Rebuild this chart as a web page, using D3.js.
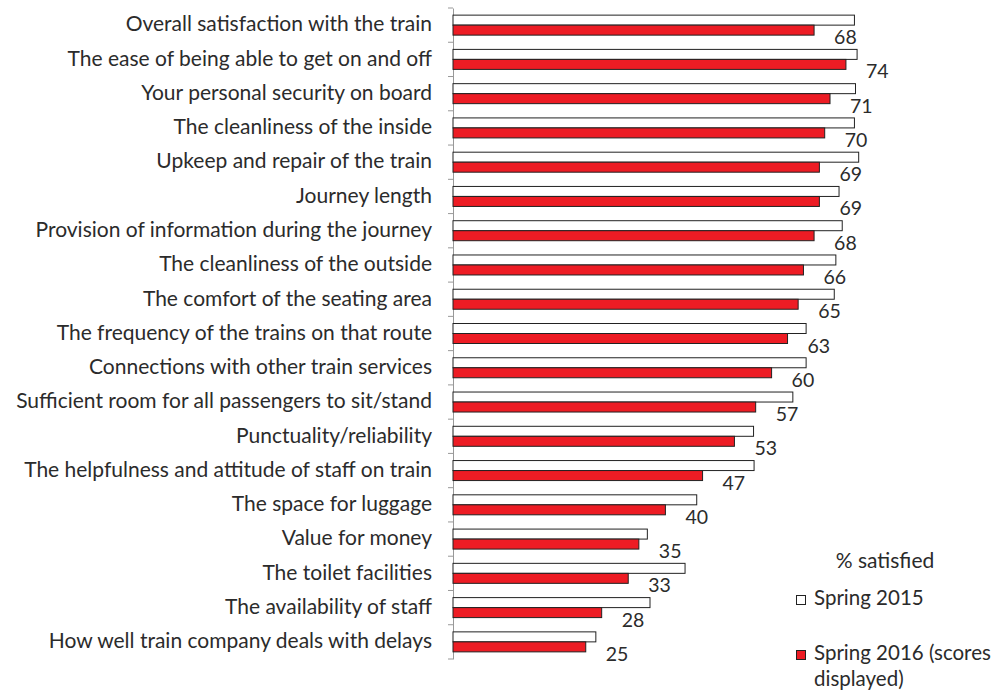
<html>
<head>
<script src="https://d3js.org/d3.v7.min.js"></script>
<style>
  body { margin: 0; background: #fff; }
  text { font-family: Lato, "Open Sans", sans-serif; fill: #2b2b2b; }
</style>
</head>
<body>
<script>
var categories = [
  "Overall satisfaction with the train",
  "The ease of being able to get on and off",
  "Your personal security on board",
  "The cleanliness of the inside",
  "Upkeep and repair of the train",
  "Journey length",
  "Provision of information during the journey",
  "The cleanliness of the outside",
  "The comfort of the seating area",
  "The frequency of the trains on that route",
  "Connections with other train services",
  "Sufficient room for all passengers to sit/stand",
  "Punctuality/reliability",
  "The helpfulness and attitude of staff on train",
  "The space for luggage",
  "Value for money",
  "The toilet facilities",
  "The availability of staff",
  "How well train company deals with delays"
];
// Spring 2015
var spring2015 = [75.6, 76.1, 75.8, 75.6, 76.4, 72.7, 73.3, 72.1, 71.8, 66.5, 66.5, 64.0, 56.6, 56.7, 45.9, 36.6, 43.7, 37.1, 26.9];
// Spring 2016 (scores displayed)
var spring2016 = [68, 74, 71, 70, 69, 69, 68, 66, 65, 63, 60, 57, 53, 47, 40, 35, 33, 28, 25];

var legendTitle = "% satisfied";
var seriesNames = ["Spring 2015", "Spring 2016 (scores", "displayed)"];

var width = 999, height = 690;
var svg = d3.select("body").append("svg").attr("width", width).attr("height", height);

var x = d3.scaleLinear().domain([0, 100]).range([453, 984]);
var y = d3.scaleBand().domain(categories).range([8, 659]).paddingInner(0).paddingOuter(0);
var barH = 10;

// axis
var yAxis = d3.axisLeft(y).tickSize(0).tickPadding(21);
var gAxis = svg.append("g").attr("transform", "translate(453,0)").call(yAxis);
gAxis.select(".domain").attr("stroke", "#999");
gAxis.selectAll("text").style("font-size", "21px").attr("fill", "#2b2b2b").style("font-family", "Lato, sans-serif").attr("dy", "0.3em");

// tick marks at band boundaries
var bounds = categories.map(function(c) { return y(c); }).concat([y.range()[1]]);
svg.selectAll("line.tick").data(bounds).enter().append("line")
  .attr("x1", 448).attr("x2", 453)
  .attr("y1", function(d) { return d; }).attr("y2", function(d) { return d; })
  .attr("stroke", "#999");

// Spring 2015 bars
svg.selectAll("rect.s15").data(categories).enter().append("rect")
  .attr("class", "s15")
  .attr("x", x(0))
  .attr("y", function(d) { return y(d) + y.bandwidth() / 2 - barH; })
  .attr("width", function(d, i) { return x(spring2015[i]) - x(0); })
  .attr("height", barH)
  .attr("fill", "#fff").attr("stroke", "#222").attr("stroke-width", 1);

// Spring 2016 bars
svg.selectAll("rect.s16").data(categories).enter().append("rect")
  .attr("class", "s16")
  .attr("x", x(0))
  .attr("y", function(d) { return y(d) + y.bandwidth() / 2; })
  .attr("width", function(d, i) { return x(spring2016[i]) - x(0); })
  .attr("height", barH)
  .attr("fill", "#ED1C24").attr("stroke", "#222").attr("stroke-width", 1);

// value labels
svg.selectAll("text.val").data(categories).enter().append("text")
  .attr("class", "val")
  .attr("x", function(d, i) { return x(spring2016[i]) + 20; })
  .attr("y", function(d) { return y(d) + y.bandwidth() / 2 + barH / 2 + 14; })
  .style("font-size", "19.5px")
  .text(function(d, i) { return spring2016[i]; });

// legend
svg.append("text").attr("x", 885).attr("y", 568).attr("text-anchor", "middle")
  .style("font-size", "21px").text(legendTitle);
svg.append("rect").attr("x", 796.5).attr("y", 595.5).attr("width", 9).attr("height", 9)
  .attr("fill", "#fff").attr("stroke", "#222");
svg.append("text").attr("x", 814).attr("y", 605).style("font-size", "20.5px").text(seriesNames[0]);
svg.append("rect").attr("x", 796.5).attr("y", 650.5).attr("width", 9).attr("height", 9)
  .attr("fill", "#ED1C24").attr("stroke", "#222");
svg.append("text").attr("x", 814).attr("y", 660).style("font-size", "20.5px").text(seriesNames[1]);
svg.append("text").attr("x", 814).attr("y", 686).style("font-size", "20.5px").text(seriesNames[2]);
</script>
</body>
</html>
